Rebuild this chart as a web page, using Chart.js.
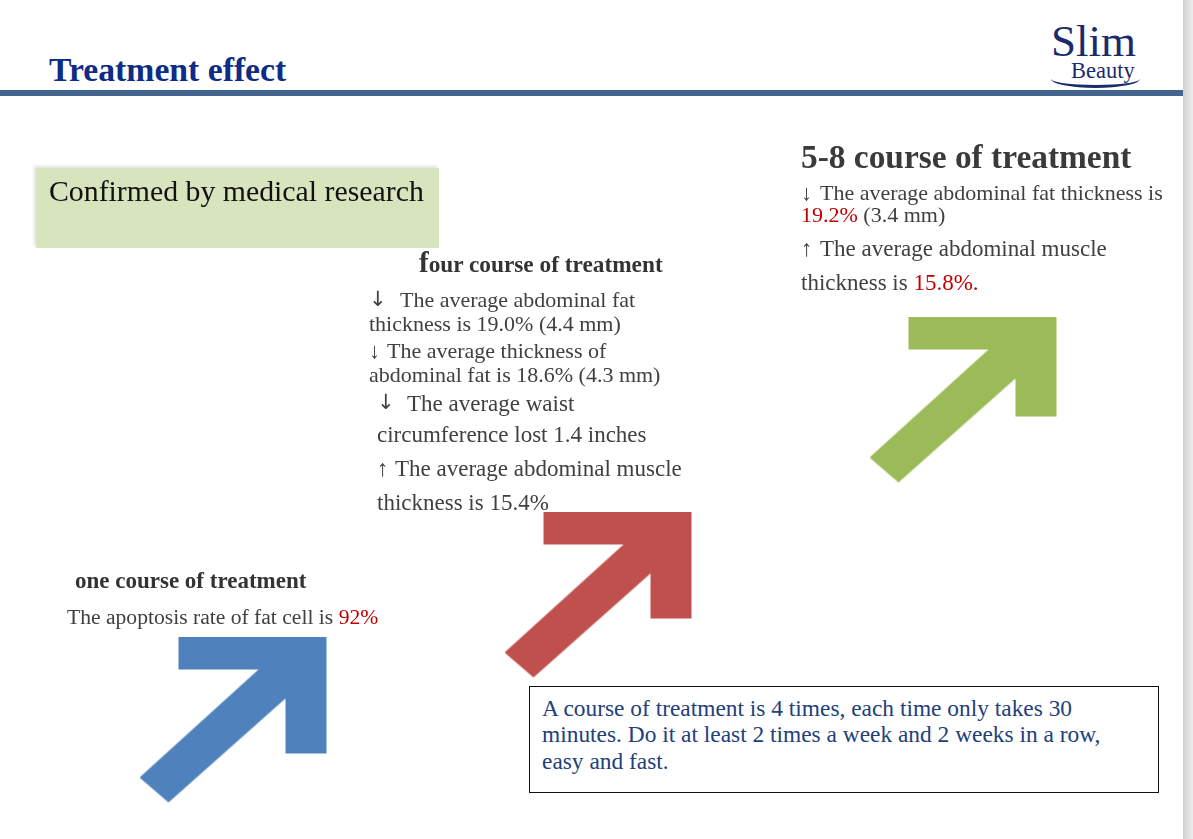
<!DOCTYPE html>
<html>
<head>
<meta charset="utf-8">
<script src="https://cdn.jsdelivr.net/npm/chart.js@4.4.1/dist/chart.umd.min.js"></script>
<style>
  html, body { margin:0; padding:0; background:#fff; width:1193px; height:839px; overflow:hidden; }
  body { position:relative; font-family:"Liberation Serif", "DejaVu Serif", serif; }
  .t { position:absolute; white-space:nowrap; line-height:1; color:#404040; }
  .b { font-weight:bold; color:#333; }
  .red { color:#C00000; }
  .sa { font-family:"DejaVu Sans", sans-serif; }
  #wrap { position:absolute; left:51px; top:95px; width:1095px; height:725px; z-index:0; }
  .t, .box, .deco { z-index:1; }
</style>
</head>
<body>
<script>
// ---- data ----
const stages = ['one course of treatment', 'four course of treatment', '5-8 course of treatment'];
const stageLevel = [1, 2, 3.56];          // relative height of each stage's arrow (staircase)
// ---- styles (not data) ----
const arrowColors = ['#4F81BD', '#C0504D', '#9BBB59'];
const arrowHeadDepth = [117, 107, 100];
</script>

<!-- header -->
<div class="t b" style="left:49px; top:53px; font-size:33.7px; color:#0D2C86;">Treatment effect</div>
<div class="deco" style="position:absolute; left:0; top:90px; width:1183px; height:6px; background:#41648F;"></div>
<div class="deco" style="position:absolute; left:1183px; top:0; width:10px; height:839px; background:linear-gradient(to right,#d2d2d2,#ededed);"></div>
<div class="t" style="left:1051px; top:19px; font-size:45px; color:#1B2A6B;">Slim</div>
<div class="t" style="left:1071px; top:60px; font-size:22.5px; color:#1B2A6B;">Beauty</div>
<div class="deco" style="position:absolute; left:1051px; top:70px; width:89px; height:18px; border-bottom:3.5px solid #1B2A6B; border-radius:50%; box-sizing:border-box;"></div>

<!-- green box -->
<div class="box" style="position:absolute; left:36px; top:168px; width:403px; height:80px; background:#D7E4BD; box-shadow:-2px -2px 3px rgba(0,0,0,0.12);"></div>
<div class="t" style="left:49px; top:176px; font-size:29.8px; color:#111;">Confirmed by medical research</div>

<!-- four course block -->
<div class="t b" style="left:419px; top:248px; font-size:23.3px;"><span style="font-size:29px;">f</span>our course of treatment</div>
<div class="t sa" style="left:369px; top:289px; font-size:21px;">↓</div>
<div class="t" style="left:400px; top:289px; font-size:22px;">The average abdominal fat</div>
<div class="t" style="left:369px; top:313px; font-size:22px;">thickness is 19.0% (4.4 mm)</div>
<div class="t" style="left:369px; top:340px; font-size:22px;">↓</div>
<div class="t" style="left:387px; top:340px; font-size:22px;">The average thickness of</div>
<div class="t" style="left:369px; top:364px; font-size:22px;">abdominal fat is 18.6% (4.3 mm)</div>
<div class="t sa" style="left:377px; top:392px; font-size:21px;">↓</div>
<div class="t" style="left:407px; top:392px; font-size:23px;">The average waist</div>
<div class="t" style="left:377px; top:423px; font-size:23px;">circumference lost 1.4 inches</div>
<div class="t" style="left:377px; top:457px; font-size:23px;">↑</div>
<div class="t" style="left:395px; top:457px; font-size:23px;">The average abdominal muscle</div>
<div class="t" style="left:377px; top:491px; font-size:23px;">thickness is 15.4%</div>

<!-- 5-8 block -->
<div class="t b" style="left:801px; top:140px; font-size:33.4px; color:#3a3a3a;">5-8 course of treatment</div>
<div class="t" style="left:801px; top:182px; font-size:22px;">↓</div>
<div class="t" style="left:820px; top:182px; font-size:22px;">The average abdominal fat thickness is</div>
<div class="t" style="left:801px; top:204px; font-size:22px;"><span class="red">19.2%</span> (3.4 mm)</div>
<div class="t" style="left:801px; top:237px; font-size:23px;">↑</div>
<div class="t" style="left:820px; top:237px; font-size:23px;">The average abdominal muscle</div>
<div class="t" style="left:801px; top:271px; font-size:23px;">thickness is <span class="red">15.8%.</span></div>

<!-- one course block -->
<div class="t b" style="left:75px; top:569px; font-size:23px;">one course of treatment</div>
<div class="t" style="left:67px; top:607px; font-size:21.6px;">The apoptosis rate of fat cell is <span class="red">92%</span></div>

<!-- note box -->
<div class="box" style="position:absolute; left:529px; top:686px; width:630px; height:107px; border:1.5px solid #111; box-sizing:border-box; background:#fff;"></div>
<div class="t" style="left:542px; top:697px; font-size:23.4px; color:#22407A;">A course of treatment is 4 times, each time only takes 30</div>
<div class="t" style="left:542px; top:723px; font-size:23.4px; color:#22407A;">minutes. Do it at least 2 times a week and 2 weeks in a row,</div>
<div class="t" style="left:542px; top:750px; font-size:23.4px; color:#22407A;">easy and fast.</div>

<div id="wrap"><canvas id="c" width="1095" height="725"></canvas></div>

<script>
function makeArrow(color, depth) {
  const cv = document.createElement('canvas');
  cv.width = 188; cv.height = 167;
  const g = cv.getContext('2d');
  g.fillStyle = color;
  g.beginPath();
  const pts = [[39,0],[187,0],[187,depth],[146,depth],[146,62],[29,166],[0,141],[119,33],[39,33]];
  pts.forEach((p, i) => i ? g.lineTo(p[0], p[1]) : g.moveTo(p[0], p[1]));
  g.closePath();
  g.fill();
  return cv;
}
const arrowImgs = arrowColors.map((c, i) => makeArrow(c, arrowHeadDepth[i]));

new Chart(document.getElementById('c'), {
  type: 'scatter',
  data: {
    labels: stages,
    datasets: [{
      data: stages.map((s, i) => ({ x: s, y: stageLevel[i] })),
      pointStyle: arrowImgs,
      pointRadius: 90,
      pointHoverRadius: 90,
      clip: false
    }]
  },
  options: {
    responsive: false,
    animation: false,
    devicePixelRatio: 1,
    layout: { padding: 0, autoPadding: false },
    events: [],
    plugins: { legend: { display: false }, tooltip: { enabled: false } },
    scales: {
      x: { type: 'category', labels: stages, offset: true, display: false },
      y: { type: 'linear', min: 0.2, max: 6, display: false }
    }
  }
});
</script>
</body>
</html>
